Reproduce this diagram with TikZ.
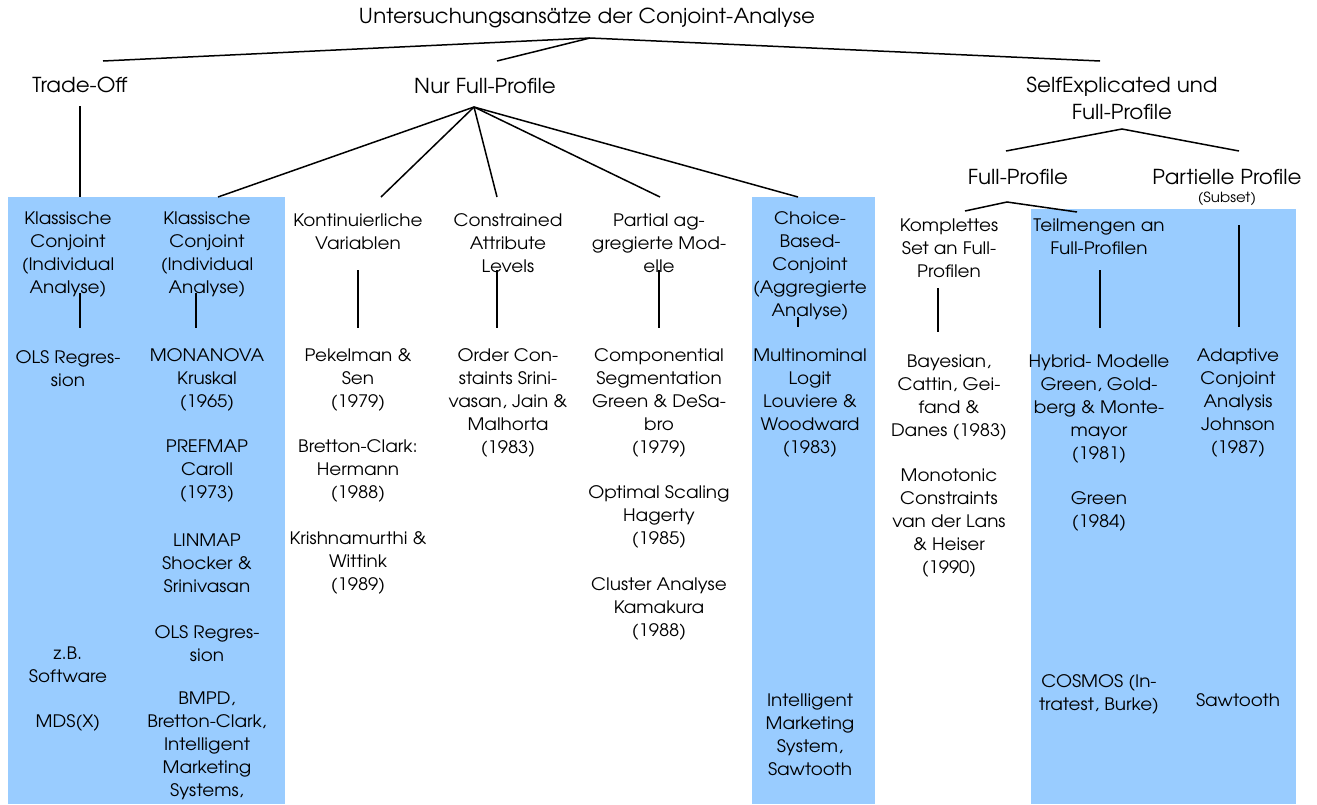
\documentclass[tikz,border=0pt]{standalone}
\usepackage{fontspec}
\setmainfont{texgyreadventor-regular.otf}[FakeStretch=1.07]
\newfontfamily\headfam{texgyreadventor-regular.otf}[FakeStretch=1.04]
\newcommand\bodyfont{\fontsize{17.2}{23}\selectfont}
\newcommand\headfont{\headfam\fontsize{20.6}{27}\selectfont}
\newcommand\notefont{\fontsize{14}{16}\selectfont}
\definecolor{cjblue}{HTML}{99CCFF}
\tikzset{
  lbl/.style={align=center, inner sep=0pt, font=\bodyfont},
  head/.style={align=center, inner sep=0pt, font=\headfont},
  note/.style={align=center, inner sep=0pt, font=\notefont},
  link/.style={draw=black, line width=1.5pt},
  band/.style={fill=cjblue, draw=none}
}
\begin{document}
\begin{tikzpicture}[x=1pt, y=-1pt]
\useasboundingbox (0,0) rectangle (1317,804);

% shaded groups
\path[band] (8,197) rectangle (285,804);
\path[band] (752,197) rectangle (875,804);
\path[band] (1031,209) rectangle (1296,804);

% top levels
\node[head] (title) at (587,18) {Untersuchungsansätze der Conjoint-Analyse};
\node[head] (tradeoff) at (80,85) {Trade-Off};
\node[head] (nurfp) at (485,86) {Nur Full-Profile};
\node[head] (selfexp) at (1122,98.5) {SelfExplicated und\\Full-Profile};
\node[head] (fullprof) at (1018,177) {Full-Profile};
\node[head] (partprof) at (1227,177) {Partielle Profile};
\node[note] (subset) at (1227,199) {(Subset)};

% branch points and free ends
\coordinate (root) at (590,38);
\coordinate (rTO) at (103,61);
\coordinate (rNF) at (497,61);
\coordinate (rSE) at (1100,61);
\coordinate (toTop) at (80,106);
\coordinate (toBot) at (80,197);
\coordinate (nf) at (474,107);
\coordinate (nf1) at (218,197);
\coordinate (nf2) at (381,197);
\coordinate (nf3) at (497,197);
\coordinate (nf4) at (660,197);
\coordinate (nf5) at (798,197);
\coordinate (se) at (1122,129);
\coordinate (se1) at (1006,151);
\coordinate (se2) at (1239,151);
\coordinate (fp) at (1007,202);
\coordinate (fp1) at (965,211);
\coordinate (fp2) at (1077,212);

\draw[link] (rTO) -- (root) -- (rSE);
\draw[link] (root) -- (rNF);
\draw[link] (toTop) -- (toBot);
\foreach \e in {nf1,nf2,nf3,nf4,nf5} \draw[link] (nf) -- (\e);
\draw[link] (se1) -- (se) -- (se2);
\draw[link] (fp1) -- (fp) -- (fp2);

% column stems
\foreach \n/\x/\ya/\yb in {s1/80/293/328, s2/196/293/328, s3/358/270/328,
    s4/497/270/328, s5/659/270/328, s6/798/317/327, s7/938/288/332,
    s8/1100/270/328, s9/1239/225/327} {
  \coordinate (\n a) at (\x,\ya);
  \coordinate (\n b) at (\x,\yb);
  \draw[link] (\n a) -- (\n b);
}

% column 1
\node[lbl] (c1h) at (68,254.5) {Klassische\\Conjoint\\(Individual\\Analyse)};
\node[lbl] (c1a) at (68,368.5) {OLS Regres-\\sion};
\node[lbl] (c1b) at (68,664.5) {z.B.\\Software};
\node[lbl] (c1c) at (68,723) {MDS(X)};

% column 2
\node[lbl] (c2h) at (207,254.5) {Klassische\\Conjoint\\(Individual\\Analyse)};
\node[lbl] (c2a) at (207,380) {MONANOVA\\Kruskal\\(1965)};
\node[lbl] (c2b) at (207,471) {PREFMAP\\Caroll\\(1973)};
\node[lbl] (c2c) at (207,563) {LINMAP\\Shocker \&\\Srinivasan};
\node[lbl] (c2d) at (207,643.5) {OLS Regres-\\sion};
\node[lbl] (c2e) at (207,746) {BMPD,\\Bretton-Clark,\\Intelligent\\Marketing\\Systems,};

% column 3
\node[lbl] (c3h) at (358,231.5) {Kontinuierliche\\Variablen};
\node[lbl] (c3a) at (358,380) {Pekelman \&\\Sen\\(1979)};
\node[lbl] (c3b) at (358,471) {Bretton-Clark:\\Hermann\\(1988)};
\node[lbl] (c3c) at (358,563) {Krishnamurthi \&\\Wittink\\(1989)};

% column 4
\node[lbl] (c4h) at (508,243) {Constrained\\Attribute\\Levels};
\node[lbl] (c4a) at (508,403) {Order Con-\\staints Srini-\\vasan, Jain \&\\Malhorta\\(1983)};

% column 5
\node[lbl] (c5h) at (659,243) {Partial ag-\\gregierte Mod-\\elle};
\node[lbl] (c5a) at (659,403) {Componential\\Segmentation\\Green \& DeSa-\\bro\\(1979)};
\node[lbl] (c5b) at (659,517) {Optimal Scaling\\Hagerty\\(1985)};
\node[lbl] (c5c) at (659,609) {Cluster Analyse\\Kamakura\\(1988)};

% column 6
\node[lbl] (c6h) at (810,265.5) {Choice-\\Based-\\Conjoint\\(Aggregierte\\Analyse)};
\node[lbl] (c6a) at (810,403) {Multinominal\\Logit\\Louviere \&\\Woodward\\(1983)};
\node[lbl] (c6b) at (810,734.5) {Intelligent\\Marketing\\System,\\Sawtooth};

% column 7
\node[lbl] (c7h) at (949,248) {Komplettes\\Set an Full-\\Profilen};
\node[lbl] (c7a) at (949,397.5) {Bayesian,\\Cattin, Gei-\\fand \&\\Danes (1983)};
\node[lbl] (c7b) at (949,523) {Monotonic\\Constraints\\van der Lans\\\& Heiser\\(1990)};

% column 8
\node[lbl] (c8h) at (1099,236.5) {Teilmengen an\\Full-Profilen};
\node[lbl] (c8a) at (1099,409) {Hybrid- Modelle\\Green, Gold-\\berg \& Monte-\\mayor\\(1981)};
\node[lbl] (c8b) at (1099,511.5) {Green\\(1984)};
\node[lbl] (c8c) at (1099,694.5) {COSMOS (In-\\tratest, Burke)};

% column 9
\node[lbl] (c9a) at (1238,403) {Adaptive\\Conjoint\\Analysis\\Johnson\\(1987)};
\node[lbl] (c9b) at (1238,700) {Sawtooth};
\end{tikzpicture}
\end{document}
